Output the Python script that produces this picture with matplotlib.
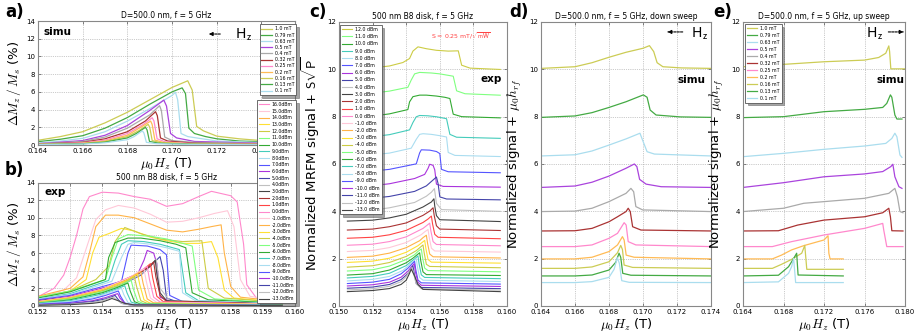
import matplotlib
matplotlib.use("Agg")
import matplotlib.pyplot as plt
import numpy as np

# ---------------- simulation (down sweep, panel a) ----------------
SIM_LABELS = ["1.0 mT", "0.79 mT", "0.63 mT", "0.5 mT", "0.4 mT", "0.32 mT",
              "0.25 mT", "0.2 mT", "0.16 mT", "0.13 mT", "0.1 mT"]
SIM_COLORS = ["#cccc55", "#44aa44", "#aaddee", "#aa44dd", "#aaaaaa", "#aa3333",
              "#ff88cc", "#ffbb55", "#cccc55", "#44aa44", "#aaddee"]

A_X = [
    [0.164, 0.165, 0.166, 0.167, 0.168, 0.169, 0.170, 0.1707, 0.1709, 0.1711, 0.1714, 0.172, 0.173, 0.174, 0.1755],
    [0.164, 0.165, 0.166, 0.167, 0.168, 0.169, 0.170, 0.17045, 0.1706, 0.17075, 0.1710, 0.1715, 0.172, 0.173, 0.1755],
    [0.164, 0.165, 0.166, 0.167, 0.168, 0.169, 0.1700, 0.17015, 0.17025, 0.1704, 0.1707, 0.172, 0.1755],
    [0.164, 0.166, 0.167, 0.168, 0.169, 0.16963, 0.16975, 0.16993, 0.1702, 0.171, 0.1755],
    [0.164, 0.166, 0.167, 0.168, 0.169, 0.16944, 0.16952, 0.16967, 0.170, 0.171, 0.1755],
    [0.164, 0.166, 0.167, 0.168, 0.1688, 0.16926, 0.16934, 0.16948, 0.1698, 0.171, 0.1755],
    [0.164, 0.166, 0.167, 0.168, 0.1687, 0.16911, 0.16919, 0.16933, 0.1697, 0.171, 0.1755],
    [0.164, 0.166, 0.167, 0.168, 0.1686, 0.16904, 0.16911, 0.16923, 0.1696, 0.171, 0.1755],
    [0.164, 0.166, 0.167, 0.168, 0.1685, 0.16893, 0.169, 0.16911, 0.1695, 0.171, 0.1755],
    [0.164, 0.166, 0.167, 0.168, 0.1684, 0.16881, 0.16888, 0.16899, 0.1694, 0.171, 0.1755],
    [0.164, 0.166, 0.167, 0.168, 0.1683, 0.16867, 0.16874, 0.16885, 0.1693, 0.171, 0.1755],
]
A_Y = [
    [0.53, 0.95, 1.5, 2.5, 3.7, 5.1, 6.5, 7.25, 6.2, 2.1, 1.6, 1.0, 0.7, 0.5, 0.35],
    [0.38, 0.65, 1.05, 1.9, 3.1, 4.6, 6.0, 6.45, 5.8, 1.9, 1.3, 0.95, 0.7, 0.45, 0.25],
    [0.23, 0.45, 0.75, 1.5, 2.7, 4.1, 5.6, 5.95, 5.1, 1.3, 0.95, 0.45, 0.15],
    [0.15, 0.5, 1.1, 2.2, 3.9, 5.07, 4.4, 1.3, 0.8, 0.4, 0.1],
    [0.12, 0.4, 0.9, 1.9, 3.4, 4.44, 3.9, 0.9, 0.5, 0.3, 0.08],
    [0.1, 0.3, 0.7, 1.5, 2.7, 3.76, 3.3, 0.8, 0.45, 0.2, 0.06],
    [0.08, 0.25, 0.55, 1.3, 2.3, 3.08, 2.7, 0.7, 0.35, 0.15, 0.05],
    [0.07, 0.2, 0.45, 1.1, 2.0, 2.7, 2.3, 0.56, 0.3, 0.12, 0.04],
    [0.06, 0.17, 0.38, 0.95, 1.6, 2.33, 2.0, 0.5, 0.25, 0.1, 0.03],
    [0.05, 0.14, 0.32, 0.8, 1.3, 2.0, 1.7, 0.4, 0.2, 0.08, 0.03],
    [0.04, 0.11, 0.25, 0.6, 0.95, 1.6, 1.35, 0.3, 0.15, 0.06, 0.02],
]

# ---------------- simulation, normalized + offset (panel d, down sweep) ----------------
D_X = [
    [0.164, 0.166, 0.167, 0.168, 0.169, 0.170, 0.17038, 0.17063, 0.17083, 0.17117, 0.17226, 0.174],
    [0.164, 0.166, 0.167, 0.168, 0.169, 0.17002, 0.17024, 0.17042, 0.17077, 0.1722, 0.174],
    [0.164, 0.166, 0.167, 0.168, 0.169, 0.16982, 0.16998, 0.17024, 0.17067, 0.174],
    [0.164, 0.166, 0.167, 0.168, 0.169, 0.16949, 0.16964, 0.1698, 0.17018, 0.17107, 0.174],
    [0.164, 0.166, 0.167, 0.168, 0.169, 0.16929, 0.16945, 0.16958, 0.16998, 0.174],
    [0.164, 0.166, 0.167, 0.168, 0.1685, 0.169, 0.16913, 0.16925, 0.16939, 0.16988, 0.174],
    [0.164, 0.166, 0.167, 0.168, 0.1685, 0.16889, 0.16901, 0.16913, 0.16958, 0.174],
    [0.164, 0.166, 0.167, 0.168, 0.1685, 0.16879, 0.16889, 0.16901, 0.16948, 0.174],
    [0.164, 0.166, 0.167, 0.168, 0.1685, 0.16869, 0.16879, 0.16889, 0.16939, 0.174],
    [0.164, 0.166, 0.167, 0.168, 0.1684, 0.16859, 0.16869, 0.16881, 0.16929, 0.174],
    [0.164, 0.166, 0.167, 0.168, 0.1683, 0.16849, 0.16861, 0.16875, 0.16919, 0.174],
]
D_Y = [
    [10.04, 10.11, 10.28, 10.51, 10.72, 10.89, 11.0, 10.75, 10.28, 10.11, 10.06, 10.04],
    [7.97, 8.03, 8.17, 8.39, 8.63, 8.92, 8.82, 8.28, 8.07, 7.99, 7.97],
    [6.34, 6.39, 6.55, 6.8, 7.06, 7.3, 7.0, 6.52, 6.42, 6.34],
    [5.01, 5.07, 5.23, 5.49, 5.82, 6.0, 5.89, 5.35, 5.15, 5.04, 5.01],
    [3.99, 4.01, 4.13, 4.41, 4.76, 4.97, 4.83, 4.2, 4.06, 3.99],
    [3.17, 3.18, 3.28, 3.56, 3.77, 3.99, 4.13, 3.99, 3.35, 3.21, 3.17],
    [2.51, 2.51, 2.58, 2.86, 3.07, 3.52, 3.42, 2.72, 2.58, 2.51],
    [1.99, 1.99, 2.06, 2.3, 2.58, 2.93, 2.79, 2.15, 2.06, 1.99],
    [1.59, 1.59, 1.65, 1.87, 2.25, 2.56, 2.39, 1.73, 1.63, 1.59],
    [1.27, 1.27, 1.31, 1.52, 1.85, 2.23, 2.06, 1.38, 1.3, 1.27],
    [0.99, 0.99, 1.03, 1.21, 1.55, 2.04, 1.8, 1.07, 1.0, 0.99],
]

# ---------------- simulation, up sweep (panel e) ----------------
E_X = [
    [0.164, 0.168, 0.172, 0.176, 0.1774, 0.1781, 0.1784, 0.17848, 0.1786, 0.180],
    [0.164, 0.168, 0.172, 0.176, 0.1778, 0.1782, 0.17856, 0.1787, 0.179, 0.1792, 0.1797],
    [0.164, 0.168, 0.172, 0.176, 0.1781, 0.1787, 0.179, 0.1792, 0.1795, 0.1797],
    [0.164, 0.168, 0.172, 0.176, 0.1778, 0.1786, 0.1788, 0.179, 0.1794, 0.1797],
    [0.164, 0.168, 0.170, 0.172, 0.176, 0.1784, 0.1790, 0.17925, 0.1795, 0.1798],
    [0.164, 0.1675, 0.1694, 0.172, 0.176, 0.1778, 0.1784, 0.17856, 0.1787, 0.1798],
    [0.164, 0.1669, 0.1688, 0.172, 0.176, 0.1778, 0.1779, 0.1782, 0.1798],
    [0.164, 0.1669, 0.1678, 0.1688, 0.170, 0.172, 0.1724, 0.17248, 0.1726, 0.1739],
    [0.164, 0.1669, 0.1678, 0.1688, 0.1698, 0.1701, 0.1703, 0.1739],
    [0.164, 0.1675, 0.1685, 0.1691, 0.1693, 0.16944, 0.1739],
    [0.164, 0.1675, 0.1685, 0.1688, 0.169, 0.1692, 0.1739],
]
E_Y = [
    [10.11, 10.21, 10.32, 10.39, 10.5, 10.68, 10.99, 10.75, 10.02, 10.02],
    [7.96, 8.0, 8.21, 8.31, 8.39, 8.56, 8.92, 8.82, 8.07, 7.9, 7.9],
    [6.31, 6.45, 6.62, 6.76, 6.87, 7.08, 7.3, 7.15, 6.38, 6.28],
    [5.01, 5.21, 5.46, 5.58, 5.68, 5.89, 5.99, 5.46, 5.04, 4.97],
    [3.99, 4.13, 4.34, 4.41, 4.55, 4.76, 4.97, 4.62, 3.99, 3.94],
    [3.17, 3.18, 3.42, 3.63, 3.77, 3.94, 4.13, 3.77, 3.18, 3.17],
    [2.51, 2.51, 2.72, 3.0, 3.28, 3.49, 3.21, 2.51, 2.51],
    [1.99, 1.99, 2.15, 2.37, 2.55, 2.79, 2.97, 2.23, 1.99, 1.99],
    [1.59, 1.59, 1.76, 1.97, 2.23, 2.56, 1.55, 1.55],
    [1.27, 1.3, 1.66, 2.08, 2.23, 1.31, 1.27],
    [0.99, 1.02, 1.38, 1.66, 2.01, 0.99, 0.99],
]

# ---------------- experiment (panel b, ΔMz/Ms in %) ----------------
EXP_DBM = [16, 15, 14, 13, 12, 11, 10, 9, 8, 7, 6, 5, 4, 3, 2, 1, 0,
           -1, -2, -3, -4, -5, -6, -7, -8, -9, -10, -11, -12, -13]
EXP_PALETTE = ["#ff88cc", "#ffc8d8", "#ffb347", "#ffe033", "#cccc44", "#80ff80",
               "#33aa33", "#44ccbb", "#aaddf0", "#5555ff", "#aa33dd", "#4444aa",
               "#c0c0c0", "#444444", "#aa3333", "#ff4444"]

EXP_X = [
    [0.1505, 0.152, 0.1525, 0.1528, 0.153, 0.1532, 0.1534, 0.1536, 0.154, 0.1545, 0.155, 0.1555, 0.156, 0.1565, 0.157, 0.1574, 0.158, 0.1582, 0.1584, 0.1585, 0.1588, 0.1596],
    [0.1505, 0.152, 0.1528, 0.1532, 0.1535, 0.1538, 0.1541, 0.1545, 0.155, 0.1555, 0.156, 0.1565, 0.157, 0.1575, 0.1579, 0.1581, 0.1583, 0.1586, 0.1596],
    [0.1505, 0.152, 0.153, 0.1534, 0.1536, 0.1538, 0.1541, 0.1545, 0.155, 0.1555, 0.156, 0.1565, 0.157, 0.1574, 0.1577, 0.1578, 0.1580, 0.1583, 0.1596],
    [0.1505, 0.152, 0.153, 0.1535, 0.1537, 0.1539, 0.1542, 0.1546, 0.155, 0.1555, 0.156, 0.1565, 0.157, 0.1574, 0.1576, 0.1578, 0.1581, 0.1596],
    [0.1505, 0.152, 0.153, 0.1538, 0.1542, 0.1544, 0.1547, 0.1552, 0.1558, 0.1565, 0.1571, 0.1573, 0.1578, 0.1596],
    [0.1505, 0.152, 0.153, 0.1541, 0.1543, 0.1545, 0.1548, 0.1555, 0.156, 0.1565, 0.1568, 0.157, 0.1575, 0.1596],
    [0.1505, 0.152, 0.153, 0.1541, 0.1542, 0.1544, 0.1548, 0.1552, 0.1558, 0.1563, 0.1566, 0.1568, 0.1573, 0.1596],
    [0.1505, 0.152, 0.153, 0.1542, 0.1544, 0.1546, 0.1548, 0.1553, 0.1558, 0.1564, 0.1566, 0.157, 0.1596],
    [0.1505, 0.152, 0.153, 0.1543, 0.1546, 0.1548, 0.155, 0.1555, 0.156, 0.1564, 0.1565, 0.1569, 0.1596],
    [0.1505, 0.152, 0.153, 0.1546, 0.1548, 0.1549, 0.1554, 0.1558, 0.156, 0.1561, 0.1565, 0.1596],
    [0.1505, 0.152, 0.153, 0.1545, 0.1551, 0.1553, 0.1554, 0.1556, 0.1557, 0.1558, 0.1562, 0.1596],
    [0.1505, 0.152, 0.153, 0.1545, 0.1552, 0.1556, 0.1558, 0.1559, 0.156, 0.1564, 0.1596],
    [0.1505, 0.152, 0.153, 0.1545, 0.1552, 0.1555, 0.15568, 0.1558, 0.1561, 0.1596],
    [0.1505, 0.152, 0.153, 0.154, 0.155, 0.1555, 0.15565, 0.1557, 0.1558, 0.156, 0.1596],
    [0.1505, 0.152, 0.153, 0.154, 0.155, 0.1554, 0.1556, 0.15567, 0.1558, 0.156, 0.1596],
    [0.1505, 0.152, 0.153, 0.154, 0.155, 0.1553, 0.1555, 0.15557, 0.1557, 0.1559, 0.1596],
    [0.1505, 0.152, 0.153, 0.154, 0.155, 0.1552, 0.1554, 0.15547, 0.1556, 0.1558, 0.1596],
    [0.1505, 0.152, 0.153, 0.154, 0.1549, 0.1551, 0.1553, 0.15537, 0.1555, 0.1557, 0.1596],
    [0.1505, 0.152, 0.153, 0.154, 0.1548, 0.155, 0.1552, 0.15527, 0.1554, 0.1556, 0.1596],
    [0.1505, 0.152, 0.153, 0.154, 0.1547, 0.1549, 0.1551, 0.15517, 0.1553, 0.1555, 0.1596],
    [0.1505, 0.152, 0.153, 0.154, 0.1546, 0.1548, 0.155, 0.15507, 0.1552, 0.1554, 0.1596],
    [0.1505, 0.152, 0.153, 0.154, 0.1545, 0.1547, 0.1549, 0.15497, 0.1551, 0.1553, 0.1596],
    [0.1505, 0.152, 0.153, 0.154, 0.1544, 0.1546, 0.1548, 0.15487, 0.155, 0.1552, 0.1596],
    [0.1505, 0.152, 0.153, 0.154, 0.1543, 0.1545, 0.1547, 0.15477, 0.1549, 0.1551, 0.1596],
    [0.1505, 0.152, 0.153, 0.1538, 0.1542, 0.1544, 0.1546, 0.15467, 0.1548, 0.155, 0.1596],
    [0.1505, 0.152, 0.153, 0.1537, 0.1541, 0.1543, 0.1545, 0.15457, 0.1547, 0.1549, 0.1596],
    [0.1505, 0.152, 0.153, 0.1537, 0.1541, 0.1543, 0.15448, 0.15455, 0.1547, 0.1549, 0.1596],
    [0.1505, 0.152, 0.153, 0.1537, 0.1541, 0.1543, 0.1544, 0.15448, 0.1546, 0.1549, 0.1596],
    [0.1505, 0.152, 0.153, 0.1537, 0.1540, 0.1542, 0.15435, 0.15445, 0.1546, 0.1549, 0.1596],
    [0.1505, 0.152, 0.153, 0.1537, 0.1540, 0.1542, 0.1543, 0.1545, 0.1547, 0.155, 0.1596],
]
EXP_Y = [
    [0.5, 1.05, 2.0, 3.5, 5.5, 8.0, 11.0, 12.4, 12.9, 12.8, 12.4, 12.1, 11.3, 11.6, 12.4, 13.0, 12.5, 11.8, 7.0, 2.4, 0.9, 0.6],
    [0.4, 0.9, 1.8, 3.2, 6.5, 9.8, 10.9, 11.4, 11.1, 10.4, 9.5, 9.6, 10.0, 10.5, 10.8, 9.0, 3.0, 1.1, 0.5],
    [0.5, 1.1, 2.0, 3.3, 6.0, 9.0, 10.3, 10.3, 10.0, 9.3, 8.6, 8.4, 8.7, 9.0, 9.2, 6.0, 2.2, 1.0, 0.5],
    [0.4, 0.9, 1.7, 3.0, 6.0, 7.8, 8.2, 8.8, 8.5, 7.8, 7.4, 7.1, 7.1, 7.3, 5.5, 1.8, 0.9, 0.4],
    [0.6, 1.0, 1.7, 3.0, 4.5, 7.3, 8.9, 8.2, 7.6, 7.3, 7.4, 2.0, 0.9, 0.4],
    [0.5, 1.0, 1.7, 3.0, 5.5, 7.6, 8.1, 7.9, 7.6, 7.1, 6.8, 1.8, 0.8, 0.3],
    [0.5, 0.9, 1.6, 3.0, 5.5, 7.2, 7.7, 7.7, 7.4, 7.0, 6.6, 1.5, 0.7, 0.3],
    [0.4, 0.8, 1.4, 2.9, 5.2, 7.0, 7.4, 7.3, 7.0, 6.4, 1.5, 0.6, 0.25],
    [0.4, 0.8, 1.3, 2.8, 5.5, 7.0, 7.2, 7.0, 6.6, 6.2, 1.5, 0.6, 0.25],
    [0.4, 0.7, 1.2, 2.8, 6.0, 6.9, 6.8, 6.4, 5.8, 1.2, 0.5, 0.2],
    [0.3, 0.6, 1.1, 2.5, 3.6, 5.2, 6.3, 6.0, 4.8, 1.0, 0.4, 0.2],
    [0.3, 0.6, 1.0, 2.2, 3.5, 4.9, 5.6, 4.0, 0.9, 0.4, 0.2],
    [0.3, 0.5, 1.0, 2.2, 3.6, 4.5, 5.3, 2.0, 0.6, 0.2],
    [0.3, 0.5, 1.0, 1.8, 3.4, 4.5, 5.2, 3.6, 1.5, 0.6, 0.2],
    [0.3, 0.5, 1.0, 1.8, 3.4, 4.3, 5.0, 3.3, 1.2, 0.5, 0.2],
    [0.3, 0.5, 1.0, 1.9, 3.5, 4.2, 4.8, 3.2, 1.1, 0.5, 0.2],
    [0.3, 0.5, 1.0, 1.9, 3.5, 4.0, 4.5, 3.0, 1.0, 0.45, 0.2],
    [0.3, 0.5, 1.0, 1.9, 3.3, 3.8, 4.2, 2.8, 0.9, 0.4, 0.2],
    [0.25, 0.45, 0.95, 1.85, 3.0, 3.5, 3.9, 2.6, 0.8, 0.35, 0.15],
    [0.25, 0.45, 0.9, 1.8, 2.8, 3.2, 3.6, 2.4, 0.7, 0.3, 0.15],
    [0.2, 0.4, 0.85, 1.7, 2.5, 2.9, 3.3, 2.2, 0.6, 0.3, 0.12],
    [0.2, 0.35, 0.8, 1.6, 2.2, 2.6, 2.9, 1.9, 0.55, 0.25, 0.1],
    [0.15, 0.3, 0.7, 1.5, 2.0, 2.3, 2.6, 1.7, 0.5, 0.2, 0.1],
    [0.15, 0.3, 0.6, 1.35, 1.75, 2.0, 2.3, 1.5, 0.45, 0.2, 0.08],
    [0.12, 0.25, 0.5, 1.0, 1.5, 1.75, 2.0, 1.3, 0.4, 0.18, 0.07],
    [0.1, 0.2, 0.4, 0.8, 1.2, 1.45, 1.7, 1.1, 0.35, 0.15, 0.06],
    [0.08, 0.15, 0.3, 0.6, 0.95, 1.2, 1.4, 0.9, 0.3, 0.12, 0.05],
    [0.06, 0.12, 0.25, 0.5, 0.8, 1.05, 1.2, 0.8, 0.3, 0.1, 0.04],
    [0.05, 0.1, 0.2, 0.4, 0.6, 0.85, 1.0, 0.7, 0.3, 0.1, 0.04],
    [0.04, 0.08, 0.15, 0.3, 0.45, 0.7, 0.85, 0.6, 0.3, 0.12, 0.04],
]

# panel c: powers 12 .. -13 dBm, offsets S*sqrt(P) read from the baselines
C_FIRST = 4
C_OFFSETS = [9.95, 8.87, 7.91, 7.05, 6.28, 5.6, 4.99, 4.45, 3.96, 3.53, 3.15, 2.8, 2.5,
             2.23, 1.99, 1.77, 1.58, 1.41, 1.25, 1.12, 1.0, 0.89, 0.79, 0.7, 0.63, 0.56]

# ---------------- figure ----------------
plt.rcParams["font.family"] = ["DejaVu Sans"]
plt.rcParams["mathtext.fontset"] = "cm"

W, H = 915, 334
fig = plt.figure(figsize=(W / 100, H / 100), dpi=100)


def px_axes(l, r, t, b):
    return fig.add_axes([l / W, 1 - b / H, (r - l) / W, (b - t) / H])


def style(ax):
    for s in ax.spines.values():
        s.set_color("#888888")
        s.set_linewidth(0.8)
    ax.tick_params(direction="in", top=True, right=True, length=2, width=0.5,
                   colors="#555555", labelcolor="black", labelsize=5, pad=2)
    ax.grid(True, ls=":", color="#999999", lw=0.5)
    ax.set_axisbelow(True)


def leg(ax, loc, anchor, fs, sp):
    l = ax.legend(loc=loc, bbox_to_anchor=anchor, bbox_transform=fig.transFigure,
                  fontsize=fs, labelspacing=sp, handlelength=2.2, handletextpad=0.6,
                  borderpad=0.4, borderaxespad=0, fancybox=False, shadow=True,
                  framealpha=1)
    l.get_frame().set_edgecolor("#555555")
    l.get_frame().set_linewidth(0.6)
    return l


def hz_arrow(ax, tail, head, y):
    ax.annotate("", xy=(head, y), xytext=(tail, y), xycoords="axes fraction",
                arrowprops=dict(arrowstyle="-", ls=(0, (2, 1)), lw=0.8, color="k"))
    d = 0.02 if head > tail else -0.02
    ax.annotate("", xy=(head, y), xytext=(head - d, y), xycoords="axes fraction",
                arrowprops=dict(arrowstyle="-|>", lw=0.6, color="k", mutation_scale=6))


XL = r"$\mu_0H_z$ (T)"

# a) simulation
ax_a = px_axes(38, 295, 21, 145)
style(ax_a)
for xs, ys, c, lab in zip(A_X, A_Y, SIM_COLORS, SIM_LABELS):
    ax_a.plot(xs, ys, color=c, lw=0.9, label=lab)
ax_a.set_xlim(0.164, 0.1755)
ax_a.set_ylim(0, 14)
ax_a.set_xticks(np.arange(0.164, 0.1741, 0.002))
ax_a.set_title("D=500.0 nm, f = 5 GHz", fontsize=5.5, pad=2)
ax_a.set_xlabel(XL, fontsize=9.5, labelpad=1)
ax_a.set_ylabel(r"$\Delta M_z\,/\,M_s$ (%)", fontsize=9.5, labelpad=2)
ax_a.text(0.02, 0.91, "simu", transform=ax_a.transAxes, fontsize=7.5,
          fontweight="bold", va="center")
hz_arrow(ax_a, 0.72, 0.665, 0.895)
ax_a.text(0.765, 0.885, r"H$_{\mathsf{z}}$", transform=ax_a.transAxes,
          fontsize=10, va="center")
leg(ax_a, "upper right", (296 / W, 1 - 24.5 / H), 3.4, 0.25)

# b) experiment
ax_b = px_axes(38, 295, 182.5, 306)
style(ax_b)
for i, (xs, ys) in enumerate(zip(EXP_X, EXP_Y)):
    ax_b.plot(xs, ys, color=EXP_PALETTE[i % 16], lw=0.8,
              label="%.1fdBm" % EXP_DBM[i])
ax_b.set_xlim(0.152, 0.160)
ax_b.set_ylim(0, 14)
ax_b.set_title("500 nm B8 disk, f = 5 GHz", fontsize=5.5, pad=2)
ax_b.set_xlabel(XL, fontsize=9.5, labelpad=1)
ax_b.set_ylabel(r"$\Delta M_z\,/\,M_s$ (%)", fontsize=9.5, labelpad=2)
ax_b.text(0.027, 0.92, "exp", transform=ax_b.transAxes, fontsize=7.5,
          fontweight="bold", va="center")
leg(ax_b, "lower right", (296 / W, 1 - 303 / H), 3.3, 0.37)

# c) experiment normalized
ax_c = px_axes(339, 507, 22, 306)
style(ax_c)
for k, off in enumerate(C_OFFSETS):
    i = C_FIRST + k
    ys = np.array(EXP_Y[i])
    ax_c.plot(EXP_X[i], ys / ys.max() + off, color=EXP_PALETTE[i % 16], lw=0.8,
              label="%.1f dBm" % EXP_DBM[i])
ax_c.set_xlim(0.150, 0.160)
ax_c.set_ylim(0, 12)
ax_c.set_xticks(np.arange(0.150, 0.1601, 0.002))
ax_c.set_title("500 nm B8 disk, f = 5 GHz", fontsize=5.5, pad=2)
ax_c.set_xlabel(XL, fontsize=9.5, labelpad=1)
ax_c.set_ylabel(r"Normalized MRFM signal + $\mathsf{S}\sqrt{\mathsf{P}}$",
                fontsize=9.5, labelpad=4)
ax_c.text(0.97, 0.80, "exp", transform=ax_c.transAxes, fontsize=7.5,
          fontweight="bold", va="center", ha="right")
ax_c.text(0.726, 0.95, r"S = 0.25 mT/$\sqrt{\mathsf{mW}}$", transform=ax_c.transAxes,
          fontsize=4.5, color="#ff4444", va="center", ha="center")
leg(ax_c, "upper left", (340 / W, 1 - 25 / H), 3.4, 0.47)

# d) simulation normalized, down sweep
ax_d = px_axes(541, 711, 22, 306)
style(ax_d)
for xs, ys, c in zip(D_X, D_Y, SIM_COLORS):
    ax_d.plot(xs, ys, color=c, lw=0.9)
ax_d.set_xlim(0.164, 0.174)
ax_d.set_ylim(0, 12)
ax_d.set_xticks(np.arange(0.164, 0.1741, 0.002))
ax_d.set_title("D=500.0 nm, f = 5 GHz, down sweep", fontsize=5.5, pad=2)
ax_d.set_xlabel(XL, fontsize=9.5, labelpad=1)
ax_d.set_ylabel(r"Normalized signal + $\mu_0 h_{rf}$", fontsize=9.5, labelpad=4)
ax_d.text(0.965, 0.796, "simu", transform=ax_d.transAxes, fontsize=7.5,
          fontweight="bold", va="center", ha="right")
hz_arrow(ax_d, 0.85, 0.745, 0.965)
ax_d.text(0.885, 0.958, r"H$_{\mathsf{z}}$", transform=ax_d.transAxes,
          fontsize=10, va="center")

# e) simulation normalized, up sweep
ax_e = px_axes(743, 905, 22, 306)
style(ax_e)
for xs, ys, c, lab in zip(E_X, E_Y, SIM_COLORS, SIM_LABELS):
    ax_e.plot(xs, ys, color=c, lw=0.9, label=lab)
ax_e.set_xlim(0.164, 0.180)
ax_e.set_ylim(0, 12)
ax_e.set_xticks(np.arange(0.164, 0.1801, 0.004))
ax_e.set_title("D=500.0 nm, f = 5 GHz, up sweep", fontsize=5.5, pad=2)
ax_e.set_xlabel(XL, fontsize=9.5, labelpad=1)
ax_e.set_ylabel(r"Normalized signal + $\mu_0 h_{rf}$", fontsize=9.5, labelpad=4)
ax_e.text(0.995, 0.796, "simu", transform=ax_e.transAxes, fontsize=7.5,
          fontweight="bold", va="center", ha="right")
ax_e.text(0.76, 0.958, r"H$_{\mathsf{z}}$", transform=ax_e.transAxes,
          fontsize=10, va="center")
hz_arrow(ax_e, 0.88, 0.99, 0.965)
leg(ax_e, "upper left", (745 / W, 1 - 24 / H), 3.4, 0.42)

for lab, x, y in [("a)", 5, 12), ("b)", 5, 170), ("c)", 309, 12),
                  ("d)", 509, 12), ("e)", 713, 12)]:
    fig.text(x / W, 1 - y / H, lab, fontsize=12, fontweight="bold", va="center")

fig.savefig("out.png", dpi=100)
